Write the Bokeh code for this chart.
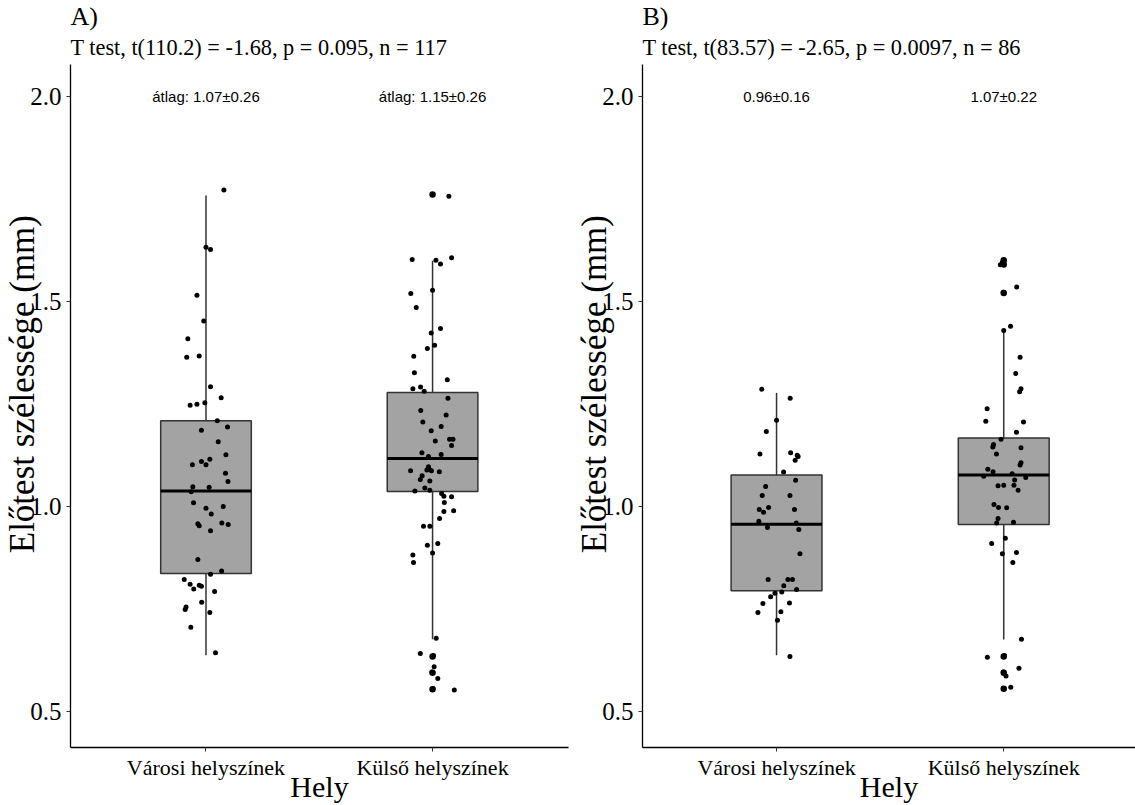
from bokeh.plotting import figure
from bokeh.models import Range1d, FixedTicker, Title, NumeralTickFormatter
from bokeh.layouts import row
from bokeh.embed import file_html
from bokeh.resources import INLINE
from bokeh.core.properties import value

# ---------------- data ----------------
categories = ["Városi helyszínek", "Külső helyszínek"]
cat_pos = [1, 2]

# Panel A box statistics (lower whisker, Q1, median, Q3, upper whisker)
a_low = [0.638, 0.677]
a_q1 = [0.837, 1.037]
a_med = [1.038, 1.117]
a_q3 = [1.209, 1.278]
a_high = [1.758, 1.599]
a_outliers_cat = [2, 2, 2, 2]
a_outliers = [1.760, 0.635, 0.595, 0.555]

# Panel B box statistics
b_low = [0.638, 0.676]
b_q1 = [0.795, 0.956]
b_med = [0.957, 1.077]
b_q3 = [1.077, 1.167]
b_high = [1.277, 1.430]
b_outliers_cat = [2, 2, 2, 2, 2, 2]
b_outliers = [1.600, 1.590, 1.520, 0.635, 0.595, 0.556]

# Jittered observations: value and horizontal jitter (category units)
a1_vals = [1.771, 1.632, 1.626, 1.515, 1.452, 1.409, 1.364, 1.367, 1.292, 1.265,
           1.247, 1.249, 1.253, 1.209, 1.194, 1.186, 1.158, 1.126, 1.102, 1.110,
           1.102, 1.115, 1.081, 1.061, 1.048, 1.047, 1.036, 1.009, 0.996, 0.982,
           1.000, 0.958, 0.953, 0.960, 0.956, 0.941, 0.871, 0.843, 0.835, 0.822,
           0.811, 0.799, 0.808, 0.806, 0.793, 0.767, 0.755, 0.749, 0.742, 0.706,
           0.644]
a1_jit = [0.079, 0.0, 0.02, -0.04, -0.01, -0.08, -0.085, -0.03, 0.02, 0.067,
          -0.07, -0.04, -0.005, 0.05, 0.095, -0.02, 0.054, 0.088, -0.06, -0.02,
          0.0, 0.017, 0.086, 0.097, -0.058, 0.014, -0.065, -0.055, 0.0, 0.023,
          0.076, -0.036, -0.03, 0.07, 0.098, 0.02, -0.036, 0.069, 0.02, -0.096,
          -0.07, -0.054, -0.03, -0.02, 0.038, -0.019, -0.088, -0.092, 0.017, -0.067,
          0.042]

a2_vals = [1.756, 1.602, 1.606, 1.600, 1.591, 1.527, 1.519, 1.485, 1.434, 1.423,
           1.393, 1.385, 1.366, 1.326, 1.309, 1.287, 1.291, 1.281, 1.264, 1.234,
           1.223, 1.206, 1.195, 1.185, 1.160, 1.164, 1.164, 1.149, 1.131, 1.122,
           1.127, 1.097, 1.087, 1.089, 1.091, 1.087, 1.085, 1.075, 1.066, 1.062,
           1.045, 1.040, 1.038, 1.032, 1.025, 1.024, 1.010, 0.988, 0.990, 0.971,
           0.952, 0.952, 0.906, 0.910, 0.887, 0.882, 0.864, 0.679, 0.642, 0.637,
           0.610, 0.597, 0.581, 0.557, 0.553]
a2_jit = [0.072, -0.09, 0.084, 0.015, 0.035, 0.0, -0.096, -0.072, 0.035, -0.006,
          0.009, -0.023, -0.083, -0.08, 0.065, -0.087, -0.053, -0.037, 0.068, -0.052,
          0.06, -0.043, 0.038, -0.006, 0.012, 0.075, 0.09, 0.084, -0.047, -0.018,
          0.038, -0.018, -0.097, -0.025, -0.015, -0.005, 0.03, -0.046, -0.054, -0.012,
          -0.034, -0.012, -0.078, 0.04, 0.05, 0.084, 0.052, 0.05, 0.093, 0.031,
          -0.04, -0.012, -0.023, 0.023, 0.0, -0.087, -0.084, 0.016, -0.054, 0.004,
          0.007, -0.003, 0.023, 0.002, 0.096]

b1_vals = [1.286, 1.264, 1.210, 1.183, 1.128, 1.131, 1.125, 1.122, 1.113, 1.084,
           1.064, 1.049, 1.027, 1.027, 0.993, 0.986, 0.998, 0.993, 0.964, 0.960,
           0.949, 0.944, 0.885, 0.822, 0.822, 0.822, 0.807, 0.798, 0.789, 0.792,
           0.780, 0.764, 0.765, 0.742, 0.744, 0.723, 0.635]
b1_jit = [-0.065, 0.06, 0.0, -0.045, -0.073, 0.062, 0.091, 0.095, 0.082, 0.031,
          0.084, -0.048, -0.063, 0.059, -0.076, -0.057, -0.035, 0.079, -0.078, 0.087,
          -0.04, 0.098, 0.103, -0.037, 0.05, 0.07, 0.032, 0.088, -0.007, 0.023,
          -0.026, -0.06, 0.057, -0.082, 0.019, 0.004, 0.059]

b2_vals = [1.595, 1.589, 1.535, 1.522, 1.439, 1.429, 1.364, 1.324, 1.287, 1.280,
           1.238, 1.208, 1.206, 1.181, 1.164, 1.151, 1.145, 1.143, 1.128, 1.107,
           1.101, 1.091, 1.085, 1.074, 1.080, 1.071, 1.065, 1.051, 1.052, 1.052,
           1.040, 1.005, 0.998, 0.997, 0.971, 0.960, 0.962, 0.923, 0.910, 0.885,
           0.888, 0.864, 0.677, 0.633, 0.637, 0.606, 0.597, 0.587, 0.560, 0.556]
b2_jit = [-0.006, -0.015, 0.057, -0.002, 0.03, 0.0, 0.072, 0.053, 0.076, 0.07,
          -0.073, -0.079, 0.087, 0.056, -0.012, -0.045, -0.048, 0.076, -0.032, 0.076,
          0.072, -0.07, -0.047, -0.088, 0.037, 0.097, 0.048, -0.025, 0.0, 0.045,
          0.063, -0.043, -0.023, 0.013, -0.025, -0.031, 0.043, 0.007, -0.053, -0.006,
          0.056, 0.04, 0.078, -0.072, 0.003, 0.067, -0.002, 0.01, 0.031, 0.001]

a_notes = ["átlag: 1.07±0.26", "átlag: 1.15±0.26"]
b_notes = ["0.96±0.16", "1.07±0.22"]
note_y = [2.0, 2.0]

y_ticks = [0.5, 1.0, 1.5, 2.0]
tags = ["A)", "B)"]
subtitles = ["T test, t(110.2) = -1.68, p = 0.095, n = 117",
             "T test, t(83.57) = -2.65, p = 0.0097, n = 86"]
y_title = "Előtest szélessége (mm)"
x_title = "Hely"

SERIF = "Liberation Serif"
SANS = "Liberation Sans"


def panel(tag, subtitle, low, q1, med, q3, high, out_cat, out_vals,
          groups, notes, width, left, right, xr):
    p = figure(width=width, height=805, output_backend="svg", toolbar_location=None,
               x_range=Range1d(*xr), y_range=Range1d(0.413, 2.077),
               min_border_left=left, min_border_right=right,
               min_border_top=64, min_border_bottom=53)
    p.outline_line_color = None
    p.grid.visible = False
    p.background_fill_color = "white"
    p.border_fill_color = "white"

    hw = 0.2
    # whiskers
    p.segment(x0=cat_pos, x1=cat_pos, y0=low, y1=q1, line_color="#333333", line_width=1.5)
    p.segment(x0=cat_pos, x1=cat_pos, y0=q3, y1=high, line_color="#333333", line_width=1.5)
    # boxes
    p.quad(left=[c - hw for c in cat_pos], right=[c + hw for c in cat_pos],
           bottom=q1, top=q3, fill_color="#A3A3A3", line_color="#333333", line_width=1.5)
    # medians
    p.segment(x0=[c - hw for c in cat_pos], x1=[c + hw for c in cat_pos],
              y0=med, y1=med, line_color="black", line_width=3)
    # outliers
    p.scatter(x=out_cat, y=out_vals, size=6.5, fill_color="black", line_color=None)
    # jittered points
    for ci, (vals, jit) in zip(cat_pos, groups):
        p.scatter(x=[ci + j for j in jit], y=vals, size=5, fill_color="black", line_color=None)

    p.text(x=cat_pos, y=note_y, text=notes, text_font=value(SANS), text_font_size="15px",
           text_align="center", text_baseline="middle", text_color="black")

    p.xaxis.ticker = FixedTicker(ticks=cat_pos)
    p.xaxis.major_label_overrides = {c: lab for c, lab in zip(cat_pos, categories)}
    p.yaxis.ticker = FixedTicker(ticks=y_ticks)
    p.yaxis.formatter = NumeralTickFormatter(format="0.0")
    for ax in (p.xaxis, p.yaxis):
        ax.axis_line_color = "black"
        ax.axis_line_width = 1.3
        ax.major_tick_line_color = "#333333"
        ax.major_tick_out = 4
        ax.major_tick_in = 0
        ax.minor_tick_line_color = None
        ax.major_label_text_font = SERIF
        ax.major_label_text_color = "black"
        ax.axis_label_text_font = SERIF
        ax.axis_label_text_font_style = "normal"
        ax.axis_label_text_color = "black"
    p.xaxis.major_label_text_font_size = "22px"
    p.xaxis.major_label_standoff = 3
    p.xaxis.axis_label = x_title
    p.xaxis.axis_label_text_font_size = "30px"
    p.xaxis.axis_label_standoff = -13
    p.yaxis.major_label_text_font_size = "25px"
    p.yaxis.major_label_standoff = 5
    # leading no-break spaces lift the title slightly above the panel centre, as in the reference
    p.yaxis.axis_label = "\u00a0" * 5 + y_title
    p.yaxis.axis_label_text_font_size = "35px"
    p.yaxis.axis_label_standoff = -15

    p.add_layout(Title(text=subtitle, text_font=SERIF, text_font_size="22.3px",
                       text_font_style="normal", text_color="black", align="left",
                       standoff=9), "above")
    p.add_layout(Title(text=tag, text_font=SERIF, text_font_size="26px",
                       text_font_style="normal", text_color="black", align="left",
                       standoff=-4), "above")
    return p


pa = panel(tags[0], subtitles[0], a_low, a_q1, a_med, a_q3, a_high,
           a_outliers_cat, a_outliers, [(a1_vals, a1_jit), (a2_vals, a2_jit)],
           a_notes, 570, 70, 2, (0.402, 2.600))
pb = panel(tags[1], subtitles[1], b_low, b_q1, b_med, b_q3, b_high,
           b_outliers_cat, b_outliers, [(b1_vals, b1_jit), (b2_vals, b2_jit)],
           b_notes, 565, 72, 0, (0.410, 2.580))

layout = row(pa, pb)
open("out.html", "w").write(file_html(layout, INLINE))
